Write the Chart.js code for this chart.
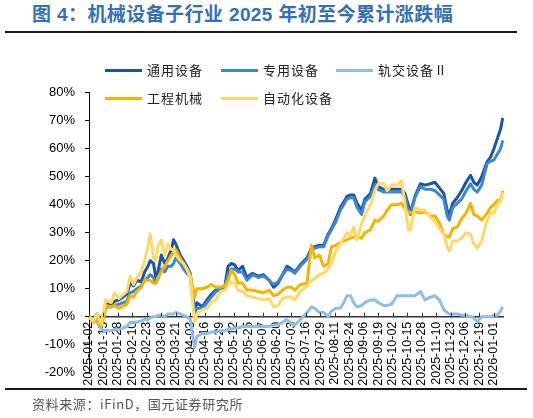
<!DOCTYPE html>
<html>
<head>
<meta charset="utf-8">
<script src="https://cdn.jsdelivr.net/npm/chart.js@4.4.1/dist/chart.umd.min.js"></script>
<style>
html,body{margin:0;padding:0;background:#fff;}
#wrap{position:relative;width:533px;height:418px;overflow:hidden;font-family:"Liberation Sans","Noto Sans CJK SC",sans-serif;}
#title{position:absolute;left:32px;top:3px;font-size:19px;font-weight:bold;color:#3370B7;white-space:nowrap;line-height:24px;letter-spacing:0.4px;}
.rule{position:absolute;left:5px;height:2px;background:#1a1a1a;}
#src{position:absolute;left:32px;top:395px;font-size:13px;line-height:18px;color:#555;white-space:nowrap;letter-spacing:0.6px;font-family:"Noto Sans CJK SC","Liberation Sans",sans-serif;}
#cv{position:absolute;left:0;top:0;}
.sw{position:absolute;width:37px;height:3px;}
.lt{position:absolute;font-size:13px;line-height:18px;color:#222;white-space:nowrap;letter-spacing:1px;font-family:"Noto Sans CJK SC",sans-serif;}
</style>
</head>
<body>
<div id="wrap">
  <div id="title">图 4：机械设备子行业 2025 年初至今累计涨跌幅</div>
  <div class="rule" style="top:31px;width:512px;"></div>
  <canvas id="cv" width="533" height="418"></canvas>
  <div id="legend"></div>
  <div class="rule" style="top:388px;width:522px;"></div>
  <div id="src">资料来源：iFinD，国元证券研究所</div>
</div>
<script>
// ---- data (cumulative % change since start of 2025) ----
const dates = [
 "2025-01-02","2025-01-06","2025-01-09","2025-01-13","2025-01-16","2025-01-17","2025-01-22","2025-01-25","2025-01-29","2025-02-05",
 "2025-02-08","2025-02-11","2025-02-14","2025-02-18","2025-02-21","2025-02-24","2025-02-26","2025-03-01","2025-03-03","2025-03-05",
 "2025-03-08","2025-03-11","2025-03-14","2025-03-17","2025-03-19","2025-03-21","2025-03-25","2025-03-28","2025-03-31","2025-04-03",
 "2025-04-07","2025-04-09","2025-04-14","2025-04-18","2025-04-22","2025-04-26","2025-04-30","2025-05-04","2025-05-07","2025-05-10",
 "2025-05-13","2025-05-16","2025-05-20","2025-05-24","2025-05-29","2025-06-03","2025-06-08","2025-06-13","2025-06-17","2025-06-21",
 "2025-06-25","2025-06-29","2025-07-03","2025-07-06","2025-07-11","2025-07-17","2025-07-21","2025-07-24","2025-07-28","2025-08-01",
 "2025-08-05","2025-08-08","2025-08-12","2025-08-16","2025-08-19","2025-08-22","2025-08-25","2025-08-28","2025-08-31","2025-09-04",
 "2025-09-07","2025-09-12","2025-09-16","2025-09-19","2025-09-24","2025-09-27","2025-10-01","2025-10-06","2025-10-10","2025-10-13",
 "2025-10-16","2025-10-18","2025-10-22","2025-10-27","2025-10-31","2025-11-05","2025-11-09","2025-11-13","2025-11-17","2025-11-20",
 "2025-11-22","2025-11-25","2025-11-29","2025-12-03","2025-12-07","2025-12-11","2025-12-14","2025-12-17","2025-12-21","2025-12-26",
 "2025-12-29","2026-01-01","2026-01-04","2026-01-07","2026-01-09"
];
const tongyong = [
 0,-1,1,-1.5,2,4.5,4.5,5.5,6,8,
 12,11,13,12.5,16,18,20,19,14,16,
 22,19,21,24,27.5,26,22,20,18,15.5,
 2,5,3.5,6,8,9.5,10,10.5,18,19,
 18.5,16.5,18,14,15.5,14.5,15,13,10.5,12,
 15,18,17,16,18.5,21,24.5,25,25.5,25.5,
 29.5,31.5,35,39,41,43,43.5,43.5,40.5,38,
 42,44,49.5,46.5,45.5,45.5,45.5,45.5,45.5,44,
 40,37,43,47.5,47,47.5,48,46,44,38,
 36.5,40.5,42.5,45,48,50.5,48,47,50,55.4,
 57,60,63.5,67,71
];
const zhuanyong = [
 0,-1.5,0.5,-2,1.5,3.5,3.5,4,4.5,5.5,
 8.5,9,10,11,13,14,15,14,12,13.5,
 17,16,18,18,19,21,19,17,15.5,14.5,
 1,3,3,5,7,9,9.5,10,15,17,
 17,16,16,13,15,14,14.5,13,11.5,12.5,
 15,17,16.5,15.5,18,20.5,24,24.5,25,25,
 29,31,34,38,40,42,42.5,42.5,39,36.5,
 41,43,47,45.5,44.5,44.5,44.5,44.5,44.5,43,
 38,36.5,42.5,46.5,45.5,45.5,45,43.5,42,36,
 34.5,39,40.5,42,45,47.5,45.5,44.5,47,54.8,
 55.5,56,58,60,63
];
const guijiao = [
 0,-1,-2,-4.5,-5,-5,-5,-4.5,-4.5,-3.5,
 -2,-2,-2,-1.5,-1,-1,-0.5,0,0,0.5,
 0.5,0,1,1,1,1.5,1,0.5,0,-1,
 -11,-7,-6,-6,-5.5,-5.5,-5,-5,-4.5,-4.5,
 -4,-4,-3.5,-3.5,-3.5,-3.5,-3.5,-3.5,-3,-3,
 -2,-1,-2.5,-3,-1,1.5,3.5,3,1.5,1.5,
 0,2,3,3,5,7.5,7.5,5,3.5,4,
 5,6,6,5,4,4,4.5,7.5,7.5,7.5,
 7.5,7.5,7.5,9,6,7,7.5,6,2.5,1.5,
 1,1,1,0.5,0.5,0,-0.5,-1.8,0,0,
 0,0.5,0.5,2,3.5
];
const gongcheng = [
 0,-2,-0.5,-3.5,1,4,3.5,4,3,4.5,
 7.5,7,9,10.5,13,13,13,12,12,14,
 16,18,20,22,23,24,21,19,17,15,
 7,10,10,10.5,11.5,10.5,10.5,11,13,16.5,
 15,12,12,9.5,9.5,9,8.5,9.5,7.5,8,
 9.5,10.5,10.5,9.5,11.5,12,25.5,21,22,18,
 19,25,25.5,26.5,27,27.5,28,28.5,28.5,28,
 30,31,34.5,34,36,38,40,40,40.5,38.5,
 37.5,37,37.5,37,37.5,36,36,33.5,29.5,28.5,
 28.5,31.5,32,35,37,40.5,36.5,36,34.5,37,
 39,40,41.5,41.5,45
];
const zidonghua = [
 0,-1.5,1,-2.5,4,6,5,8.5,6.5,9,
 14.5,11.5,14,16,20,25,29.5,21,20,25,
 27.5,22,26,24,24,22,20,19,17,14,
 -2,1,2.5,3,5,6,9,9.5,11,12.5,
 12,9.5,9,7.5,7,6.5,6,6.5,3.5,4,
 6.5,7,7,6,9,11,13,13.5,15,15.5,
 17,19,23.5,26,28,30,29,32,27.5,33,
 36,40,45,47.5,47.5,45,47,47,48.5,40.5,
 31,31,39,38,38,35.5,34,31.5,29.5,25,
 23.5,27,27,28,30,29.5,26,24.5,27,34.5,
 37,37,40,41.5,44.5
];
const tickDates = [
 "2025-01-02","2025-01-15","2025-01-28","2025-02-10","2025-02-23","2025-03-08","2025-03-21","2025-04-03",
 "2025-04-16","2025-04-29","2025-05-12","2025-05-25","2025-06-07","2025-06-20","2025-07-03","2025-07-16",
 "2025-07-29","2025-08-11","2025-08-24","2025-09-06","2025-09-19","2025-10-02","2025-10-15","2025-10-28",
 "2025-11-10","2025-11-23","2025-12-06","2025-12-19","2026-01-01"
];
const seriesNames = ["通用设备","专用设备","轨交设备Ⅱ","工程机械","自动化设备"];
const seriesColors = ["#1A55A6","#3F86D1","#8EBDE6","#F5B400","#FFD966"];

// ---- helpers ----
const base = Date.UTC(2025,0,2);
function dayIndex(s){const p=s.split('-');return Math.round((Date.UTC(+p[0],+p[1]-1,+p[2])-base)/86400000);}
const xs = dates.map(dayIndex);
const tickVals = tickDates.map(dayIndex);
const tickLabelMap = {};
tickDates.forEach((d,i)=>{tickLabelMap[tickVals[i]]=d;});

const allSeries=[tongyong,zhuanyong,guijiao,gongcheng,zidonghua];
const datasets = allSeries.map((arr,i)=>({
  label: seriesNames[i],
  data: arr.map((v,j)=>({x:xs[j],y:v})),
  borderColor: seriesColors[i],
  backgroundColor: seriesColors[i],
  borderWidth: 3,
  pointRadius: 0,
  tension: 0,
  borderJoinStyle: 'round',
  fill: false,
  order: 5-i
}));

// ---- legend (HTML) ----
const legendPos = [[105,70],[221,70],[336,70],[105,98],[221,98]];
const lg = document.getElementById('legend');
seriesNames.forEach((n,i)=>{
  const [x,y]=legendPos[i];
  const sw=document.createElement('div'); sw.className='sw';
  sw.style.left=x+'px'; sw.style.top=(y-1.5)+'px'; sw.style.background=seriesColors[i];
  const t=document.createElement('div'); t.className='lt';
  t.style.left=(x+42)+'px'; t.style.top=(y-9)+'px'; t.textContent=n;
  lg.appendChild(sw); lg.appendChild(t);
});

// inward tick marks on the x axis (drawn at the 0% line)
const xTickPlugin = {
  id:'xTickMarks',
  afterDraw(chart){
    const xs=chart.scales.x, ys=chart.scales.y, ctx=chart.ctx;
    const y0=ys.getPixelForValue(0);
    ctx.save(); ctx.strokeStyle='#333'; ctx.lineWidth=1;
    xs.ticks.forEach(t=>{
      const px=Math.round(xs.getPixelForValue(t.value))+0.5;
      ctx.beginPath(); ctx.moveTo(px,y0); ctx.lineTo(px,y0-4); ctx.stroke();
    });
    ctx.restore();
  }
};

new Chart(document.getElementById('cv'), {
  type:'line',
  data:{datasets},
  options:{
    responsive:false,
    animation:false,
    devicePixelRatio:1,
    layout:{padding:{left:0,top:92.7,right:29.1,bottom:45.3}},
    plugins:{legend:{display:false},tooltip:{enabled:false}},
    scales:{
      x:{
        type:'linear',
        position:{y:0},
        min:0, max:373,
        afterBuildTicks(scale){ scale.ticks = tickVals.map(v=>({value:v})); },
        ticks:{
          minRotation:90, maxRotation:90, autoSkip:false, padding:5,
          color:'#000', font:{family:'"Liberation Sans", Arial, sans-serif', size:12.5},
          callback(v){ return tickLabelMap[v] || ''; }
        },
        grid:{display:false, drawTicks:false},
        border:{display:true,color:'#333',width:1.5}
      },
      y:{
        type:'linear',
        min:-20, max:80,
        afterFit(scale){ scale.width = 89; },
        ticks:{
          stepSize:10, padding:10, color:'#000',
          font:{family:'"Liberation Sans", Arial, sans-serif', size:13},
          callback(v){ return v + '%'; }
        },
        grid:{display:true, drawOnChartArea:false, drawTicks:true, tickLength:4, color:'#000'},
        border:{display:true,color:'#000',width:1}
      }
    }
  },
  plugins:[xTickPlugin]
});
</script>
</body>
</html>
